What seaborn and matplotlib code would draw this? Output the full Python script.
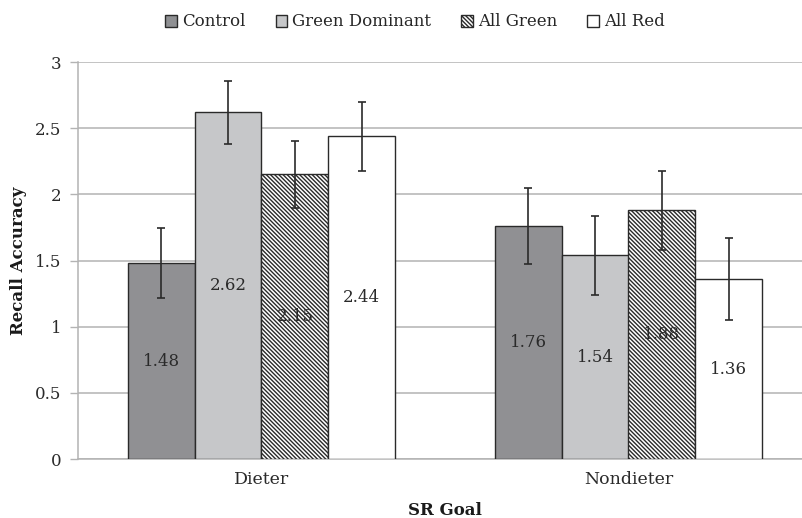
import matplotlib
matplotlib.use("Agg")
import matplotlib.pyplot as plt
import seaborn as sns
import pandas as pd
import numpy as np
from matplotlib.patches import Patch

groups = ["Dieter", "Nondieter"]
conditions = ["Control", "Green Dominant", "All Green", "All Red"]
dieter_vals = [1.48, 2.62, 2.15, 2.44]
nondieter_vals = [1.76, 1.54, 1.88, 1.36]
dieter_err = [0.265, 0.24, 0.25, 0.26]
nondieter_err = [0.29, 0.30, 0.30, 0.31]
yticks = [0, 0.5, 1, 1.5, 2, 2.5, 3]
ytick_labels = ["0", "0.5", "1", "1.5", "2", "2.5", "3"]

rows = []
for g, vals, errs in [("Dieter", dieter_vals, dieter_err), ("Nondieter", nondieter_vals, nondieter_err)]:
    for c, v, e in zip(conditions, vals, errs):
        rows.append({"SR Goal": g, "Condition": c, "Recall Accuracy": v, "err": e})
df = pd.DataFrame(rows)

sns.set_style("white")
plt.rcParams['font.family'] = ['DejaVu Serif']

colors = {"Control": "#8f9093", "Green Dominant": "#c6c7c9", "All Green": "#ffffff", "All Red": "#ffffff"}
hatches = {"Control": "", "Green Dominant": "", "All Green": "\\" * 8, "All Red": ""}
edge = "#2a2a2a"
grid_c = "#b3b3b3"

fig = plt.figure(figsize=(8.03, 5.18), dpi=100)
ax = fig.add_axes([78/803, 1 - 459/518, (812-78)/803, (459-62)/518])

plt.rcParams['hatch.linewidth'] = 1.0
plt.rcParams['hatch.color'] = edge

sns.barplot(data=df, x="SR Goal", y="Recall Accuracy", hue="Condition", order=groups,
            hue_order=conditions, palette=colors, errorbar=None, width=0.727,
            edgecolor=edge, linewidth=1.0, ax=ax, legend=False, zorder=3)

for cont, cond in zip(ax.containers, conditions):
    sub = df[df["Condition"] == cond].set_index("SR Goal").loc[groups]
    xs = []
    for p in cont.patches:
        p.set_hatch(hatches[cond])
        xs.append(p.get_x() + p.get_width() / 2)
    ax.errorbar(xs, sub["Recall Accuracy"].values, yerr=sub["err"].values, fmt="none",
                ecolor="#2a2a2a", elinewidth=1.2, capsize=3, capthick=1.2, zorder=5)
    ax.bar_label(cont, labels=[f"{v:.2f}" for v in sub["Recall Accuracy"].values],
                 label_type="center", fontsize=12, color="#2a2a2a", zorder=6)

ax.set_ylim(0, 3)
ax.set_xlim(-0.5, 1.5)
ax.set_yticks(yticks)
ax.set_yticklabels(ytick_labels, fontsize=12, color="#2a2a2a")
ax.yaxis.grid(True, color=grid_c, linewidth=1.1, zorder=0)
ax.set_axisbelow(True)
ax.tick_params(axis="y", length=6, width=1, color=grid_c, direction="out", pad=6, left=True)
ax.tick_params(axis="x", length=0, labelsize=12.5, labelcolor="#2a2a2a", pad=9)
ax.set_xticks([0, 1])
ax.set_xticklabels(groups)
ax.set_xticks([-0.5, 0.5, 1.5], minor=True)
ax.tick_params(axis="x", which="minor", length=6, width=1, color=grid_c, direction="out")

for s in ["top", "right"]:
    ax.spines[s].set_visible(False)
for s in ["left", "bottom"]:
    ax.spines[s].set_color(grid_c)
    ax.spines[s].set_linewidth(1.1)

ax.set_ylabel("Recall Accuracy", fontsize=12, fontweight="bold", color="#1a1a1a", labelpad=6)
ax.set_xlabel("SR Goal", fontsize=12, fontweight="bold", color="#1a1a1a", labelpad=10)

handles = [Patch(facecolor=colors[c], edgecolor=edge, hatch=hatches[c], linewidth=1.0) for c in conditions]
fig.legend(handles, conditions, loc="center", bbox_to_anchor=(415/803, 1 - 22/518), ncol=4,
           frameon=False, fontsize=12, handlelength=0.7, handleheight=0.7, handletextpad=0.3,
           columnspacing=1.8)

fig.savefig("out.png", dpi=100)
